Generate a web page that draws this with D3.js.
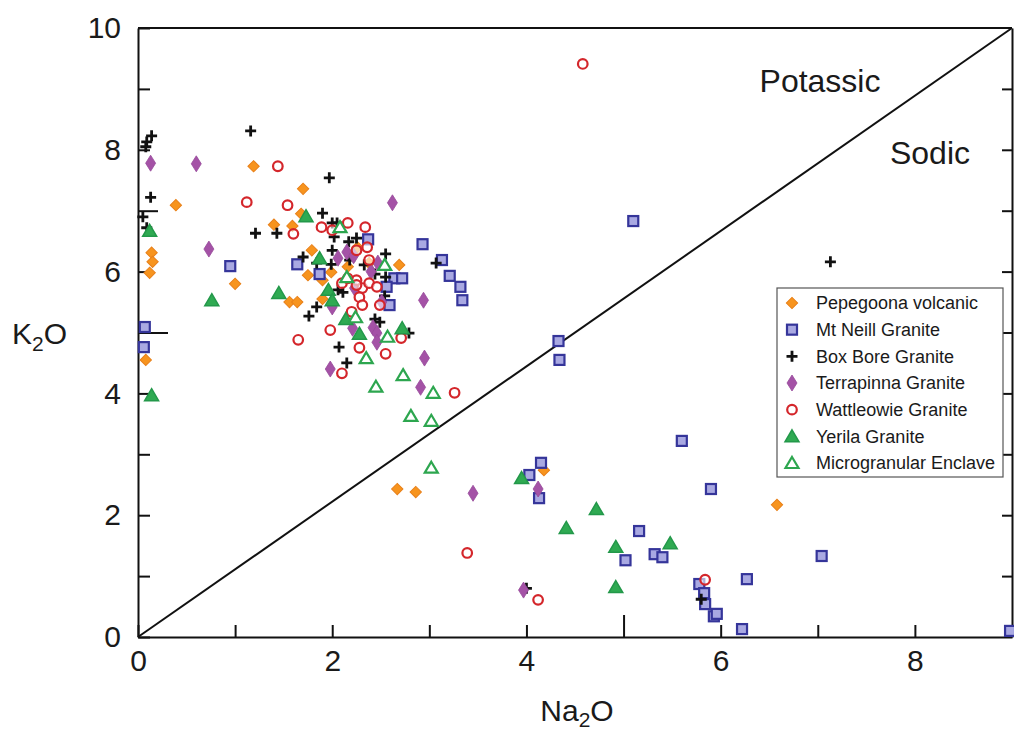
<!DOCTYPE html>
<html>
<head>
<meta charset="utf-8">
<script src="https://cdn.jsdelivr.net/npm/d3@7"></script>
<style>
	body { margin: 0; background: #fff; }
	svg text { font-family: "Liberation Sans", Arial, sans-serif; fill: #1a1a1a; }
</style>
</head>
<body>
<div id="viz"></div>
<script>
"use strict";

// [Na2O, K2O] pairs
var pepegoona = [[0.39,7.09],[0.14,6.31],[0.15,6.16],[0.12,5.98],[0.08,4.55],[1.00,5.80],[1.19,7.73],[1.70,7.36],
	[1.40,6.77],[1.59,6.75],[1.68,6.95],[1.56,5.50],[1.64,5.50],[1.75,5.94],[1.79,6.35],[1.90,5.86],[1.90,5.55],
	[1.99,5.99],[2.16,6.08],[2.69,6.11],[2.26,6.40],[2.38,6.14],[2.67,2.43],[2.86,2.38],[4.18,2.74],[6.58,2.17]];

var mtNeill = [[0.07,5.09],[0.06,4.76],[0.95,6.09],[1.64,6.12],[2.37,6.53],[2.93,6.45],[3.13,6.19],[3.21,5.93],
	[3.32,5.75],[3.34,5.53],[2.64,5.89],[2.72,5.89],[2.59,5.45],[2.56,5.75],[1.87,5.96],[5.10,6.83],[4.33,4.86],
	[4.34,4.55],[4.15,2.86],[4.03,2.66],[4.13,2.28],[5.60,3.22],[5.90,2.43],[5.16,1.74],[5.02,1.26],[5.32,1.36],
	[5.40,1.31],[7.04,1.33],[6.27,0.95],[5.78,0.87],[5.83,0.72],[5.84,0.54],[5.93,0.34],[5.96,0.38],[6.22,0.13],[8.98,0.10]];

var boxBore = [[0.14,8.23],[0.09,8.13],[0.08,8.05],[0.13,7.22],[0.05,6.90],[0.09,6.72],[1.16,8.31],[1.21,6.63],
	[1.43,6.63],[1.70,6.24],[1.97,7.54],[1.84,6.14],[1.84,5.42],[1.76,5.27],[1.90,6.96],[2.00,6.80],[2.05,6.80],
	[2.02,6.57],[2.17,6.49],[2.25,6.55],[2.00,6.35],[1.99,6.12],[2.18,6.19],[2.55,6.29],[2.33,6.11],[3.07,6.14],
	[2.44,5.96],[2.55,5.91],[2.06,5.70],[2.11,5.66],[2.54,5.60],[2.44,5.22],[2.49,5.17],[2.79,4.99],[2.07,4.76],
	[2.15,4.50],[7.13,6.16],[4.00,0.80],[5.80,0.62]];

var terrapinna = [[0.13,7.78],[0.60,7.77],[0.73,6.37],[2.62,7.13],[2.94,5.53],[2.00,5.42],[2.06,6.22],[2.15,6.32],
	[2.22,6.26],[2.47,6.14],[2.40,6.00],[2.51,5.50],[2.23,5.73],[2.42,5.08],[2.21,5.07],[2.46,4.99],[2.46,4.84],
	[2.95,4.58],[1.98,4.40],[2.91,4.10],[3.45,2.36],[4.12,2.43],[3.97,0.77]];

var wattleowie = [[4.58,9.41],[1.12,7.14],[1.44,7.73],[1.54,7.09],[1.60,6.62],[1.89,6.73],[2.16,6.80],[2.34,6.73],
	[2.36,6.40],[2.25,6.35],[2.38,6.19],[2.10,5.81],[2.25,5.86],[2.31,5.73],[2.38,5.81],[2.46,5.75],[2.28,5.58],
	[2.31,5.45],[2.49,5.45],[2.20,5.34],[2.00,6.68],[2.16,5.89],[2.25,5.78],[1.98,5.04],[2.28,4.75],[2.55,4.65],
	[2.71,4.91],[2.10,4.33],[3.26,4.01],[1.65,4.88],[3.39,1.38],[4.12,0.61],[5.84,0.94]];

var yerila = [[0.12,6.67],[0.14,3.97],[0.76,5.53],[1.45,5.65],[1.73,6.91],[1.87,6.22],[1.96,5.70],[2.00,5.53],
	[2.14,5.22],[2.28,4.98],[2.72,5.07],[3.95,2.61],[4.41,1.79],[4.72,2.10],[4.92,1.48],[4.92,0.82],[5.48,1.54]];

var enclave = [[2.08,6.73],[2.15,5.91],[2.54,6.11],[2.24,5.25],[2.57,4.93],[2.35,4.58],[2.73,4.30],[2.45,4.11],
	[3.04,4.01],[2.81,3.63],[3.02,3.55],[3.02,2.78]];

var xTicks = [0,1,2,3,4,5,6,7,8,9];
var yTicks = [0,1,2,3,4,5,6,7,8,9,10];
var divideLine = [[0,0],[9,10]];

var series = [
	{name: "Pepegoona volcanic", data: pepegoona, mark: "orange"},
	{name: "Mt Neill Granite", data: mtNeill, mark: "square"},
	{name: "Box Bore Granite", data: boxBore, mark: "cross"},
	{name: "Terrapinna Granite", data: terrapinna, mark: "diamond"},
	{name: "Wattleowie Granite", data: wattleowie, mark: "circle"},
	{name: "Yerila Granite", data: yerila, mark: "triFilled"},
	{name: "Microgranular Enclave", data: enclave, mark: "triOpen"}
];

var width = 1014,
	height = 735;

var x = d3.scaleLinear().domain([0, 9]).range([138, 1012]),
	y = d3.scaleLinear().domain([0, 10]).range([637, 28]);

var svg = d3.select("#viz")
	.append("svg")
	.attr("width", width)
	.attr("height", height)

// frame + ticks, all ticks point inward
var bottomAxis = svg.append("g")
	.attr("transform", "translate(0," + y(0) + ")")
	.call(d3.axisBottom(x).tickValues(xTicks).tickSizeInner(-12).tickSizeOuter(0).tickPadding(13)
		.tickFormat(function(d){ return d % 2 === 0 ? d : "" }))
bottomAxis.selectAll(".tick").filter(function(d){ return d === 5 }).select("line").attr("y2", -22)
bottomAxis.selectAll(".tick").filter(function(d){ return d === 9 }).remove()

var leftAxis = svg.append("g")
	.attr("transform", "translate(" + x(0) + ",0)")
	.call(d3.axisLeft(y).tickValues(yTicks).tickSizeInner(-12).tickSizeOuter(0).tickPadding(17)
		.tickFormat(function(d){ return d % 2 === 0 ? d : "" }))
leftAxis.selectAll(".tick").filter(function(d){ return d === 5 }).select("line").attr("x2", 30)
leftAxis.selectAll(".tick").filter(function(d){ return d === 7 }).select("line").attr("x2", 20)

var rightAxis = svg.append("g")
	.attr("transform", "translate(" + x(9) + ",0)")
	.call(d3.axisRight(y).tickValues(yTicks.slice(1, 10)).tickSizeInner(-10).tickSizeOuter(0).tickFormat(""))

svg.append("line")
	.attr("x1", x(0)).attr("x2", x(9))
	.attr("y1", y(10)).attr("y2", y(10))
	.attr("stroke", "#111").attr("stroke-width", 2)

svg.selectAll(".domain, .tick line").attr("stroke", "#111").attr("stroke-width", 2)
svg.selectAll(".tick text").attr("font-size", "30px").attr("fill", "#1a1a1a")

// potassic / sodic divider
var lineFunction = d3.line()
	.x(function(d){ return x(d[0]) })
	.y(function(d){ return y(d[1]) })

svg.append("path")
	.attr("d", lineFunction(divideLine))
	.attr("stroke", "#111")
	.attr("stroke-width", 2)
	.attr("fill", "none")

svg.append("text").attr("x", 820).attr("y", 92).attr("text-anchor", "middle")
	.attr("font-size", "32px").text("Potassic")
svg.append("text").attr("x", 930).attr("y", 164).attr("text-anchor", "middle")
	.attr("font-size", "32px").text("Sodic")

// axis titles with subscript 2
var yTitle = svg.append("text").attr("x", 12).attr("y", 344).attr("font-size", "30px")
yTitle.append("tspan").text("K")
yTitle.append("tspan").attr("font-size", "21px").attr("dy", 7).text("2")
yTitle.append("tspan").attr("dy", -7).text("O")

var xTitle = svg.append("text").attr("x", 577).attr("y", 721).attr("text-anchor", "middle").attr("font-size", "30px")
xTitle.append("tspan").text("Na")
xTitle.append("tspan").attr("font-size", "21px").attr("dy", 6).text("2")
xTitle.append("tspan").attr("dy", -6).text("O")

// marker drawing
var drawMark = function(g, mark) {
	if (mark === "orange") {
		g.append("path").attr("d", d3.symbol(d3.symbolSquare, 64)())
			.attr("transform", "rotate(45)")
			.attr("fill", "#F7941E").attr("stroke", "#E8801A").attr("stroke-width", 1)
	} else if (mark === "square") {
		g.append("rect").attr("x", -5).attr("y", -5).attr("width", 10).attr("height", 10)
			.attr("fill", "#A9A9E2").attr("stroke", "#35359A").attr("stroke-width", 2.2)
	} else if (mark === "cross") {
		g.append("path").attr("d", "M-5.5,0H5.5M0,-5.5V5.5")
			.attr("stroke", "#111").attr("stroke-width", 2.8).attr("fill", "none")
	} else if (mark === "diamond") {
		g.append("path").attr("d", "M0,-8L5,0L0,8L-5,0Z")
			.attr("fill", "#A452A6").attr("stroke", "#974A9A").attr("stroke-width", 0.8)
	} else if (mark === "circle") {
		g.append("circle").attr("r", 4.8)
			.attr("fill", "#fff").attr("fill-opacity", 0.6).attr("stroke", "#D4262B").attr("stroke-width", 2.2)
	} else if (mark === "triFilled") {
		g.append("path").attr("d", "M0,-6.5L7,5.5L-7,5.5Z")
			.attr("fill", "#2FAA52").attr("stroke", "#23984A").attr("stroke-width", 1.5)
	} else {
		g.append("path").attr("d", "M0,-6L6.5,5L-6.5,5Z")
			.attr("fill", "#fff").attr("stroke", "#2DA64F").attr("stroke-width", 2.2)
	}
}

var pointGroup = svg.append("g").attr("id", "points")

series.forEach(function(s){
	pointGroup.append("g")
		.selectAll("g")
		.data(s.data)
		.enter()
		.append("g")
		.attr("transform", function(d){ return "translate(" + x(d[0]) + "," + y(d[1]) + ")" })
		.each(function(){ drawMark(d3.select(this), s.mark) })
})

// legend
var legend = svg.append("g").attr("id", "legend")

legend.append("rect")
	.attr("x", 777).attr("y", 288)
	.attr("width", 226).attr("height", 189)
	.attr("fill", "#fff")
	.attr("stroke", "#555")
	.attr("stroke-width", 1.2)

var rowY = d3.scaleLinear().domain([0, series.length - 1]).range([303, 463])

series.forEach(function(s, i){
	var row = legend.append("g").attr("transform", "translate(792," + rowY(i) + ")")
	drawMark(row, s.mark)
	row.append("text")
		.attr("x", 24)
		.attr("dy", "0.35em")
		.attr("font-size", "18px")
		.text(s.name)
})
</script>
</body>
</html>
